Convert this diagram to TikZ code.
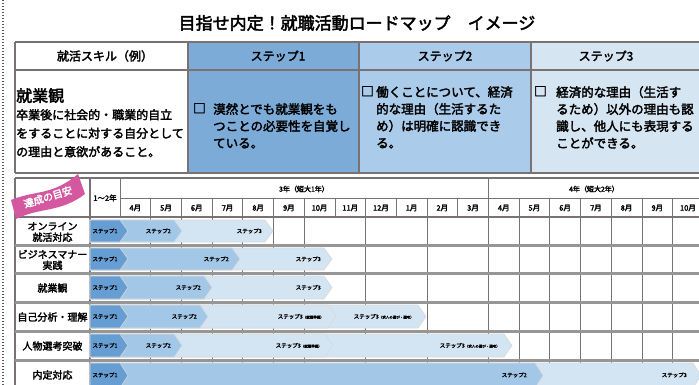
\documentclass[tikz,border=0pt]{standalone}
\usepackage{fontspec}
\setmainfont{Noto Sans CJK JP}[BoldFont={Noto Sans CJK JP}, BoldFeatures={FakeBold=2.5}]
\usepackage{tikz}

\definecolor{linegray}{RGB}{120,114,114}
\definecolor{sepgray}{RGB}{150,150,150}
\definecolor{colone}{RGB}{124,171,216}
\definecolor{coltwo}{RGB}{170,203,233}
\definecolor{colthree}{RGB}{214,229,242}
\definecolor{barone}{RGB}{102,158,211}
\definecolor{bartwo}{RGB}{163,199,231}
\definecolor{barthree}{RGB}{211,228,243}
\definecolor{ribbonpink}{RGB}{212,88,160}

\tikzset{
    tline/.style={linegray, line width=1.3pt},
    gline/.style={linegray, line width=0.8pt},
    rowsep/.style={sepgray, line width=3pt},
    headtext/.style={font=\fontsize{12}{15}\selectfont\bfseries},
    celltext/.style={font=\fontsize{12.5}{17}\selectfont\bfseries, align=left, anchor=north west, inner sep=0pt},
    rowlabel/.style={font=\fontsize{10}{11}\selectfont\bfseries, align=center},
    monthlabel/.style={font=\fontsize{7.5}{9}\selectfont\bfseries},
    steplabel/.style={font=\fontsize{5.5}{6}\selectfont\bfseries, inner sep=0pt},
    barstep/.style={draw=white!70!gray, line width=0.6pt, fill=#1},
}

\newcommand{\stepbar}[5]{\filldraw[barstep=#5] (#1,#3) -- ({#2-8},#3) -- (#2,{(#3+#4)/2}) -- ({#2-8},#4) -- (#1,#4) -- cycle;}
\newcommand{\subnote}[1]{{\fontsize{3.5}{4}\selectfont #1}}

\begin{document}
\begin{tikzpicture}[x=1pt, y=-1pt]
    \useasboundingbox (0,0) rectangle (699,385);
    \clip (0,0) rectangle (699,385);
    \fill[white] (0,0) rectangle (699,385);
    \draw[gray!70!black, line width=1.2pt, dash pattern=on 1.2pt off 1.8pt] (3,0) -- (3,385);

    \node[font=\fontsize{17}{20}\selectfont\bfseries] at (357,23) (title) {目指せ内定！就職活動ロードマップ　イメージ};

    \fill[colone] (188,42) rectangle (359,173);
    \fill[coltwo] (359,42) rectangle (531,173);
    \fill[colthree] (531,42) rectangle (699,173);
    \draw[tline] (15,42) -- (699,42);
    \draw[tline] (15,70) -- (699,70);
    \draw[tline] (15,173) -- (699,173);
    \foreach \x in {15,188,359,531} \draw[tline] (\x,42) -- (\x,173);

    \node[headtext] at (105,56) (skillhead) {就活スキル（例）};
    \node[headtext] at (278,56) (head1) {ステップ1};
    \node[headtext] at (445,56) (head2) {ステップ2};
    \node[headtext] at (606,56) (head3) {ステップ3};

    \node[celltext, font=\fontsize{16}{18}\selectfont\bfseries] at (16,88) (skill) {就業観};
    \node[celltext, font=\fontsize{12}{18.5}\selectfont\bfseries] at (16,109) (skilldesc) {卒業後に社会的・職業的自立\\をすることに対する自分として\\の理由と意欲があること。};

    \node[celltext] at (193,103) (box1) {□};
    \node[celltext] at (213,103) (text1) {漠然とでも就業観をも\\つことの必要性を自覚し\\ている。};
    \node[celltext] at (361,86) (box2) {□};
    \node[celltext] at (376,86) (text2) {働くことについて、経済\\的な理由（生活するた\\め）は明確に認識でき\\る。};
    \node[celltext] at (534,86) (box3) {□};
    \node[celltext] at (556,86) (text3) {経済的な理由（生活す\\るため）以外の理由も認\\識し、他人にも表現する\\ことができる。};

    \draw[tline] (15,178) -- (699,178);
    \draw[tline] (15,178) -- (15,385);
    \draw[tline] (90,178) -- (90,385);
    \draw[gline] (120,178) -- (120,217);
    \draw[gline] (120,198) -- (699,198);
    \draw[gline] (488.4,178) -- (488.4,198);
    \foreach \i in {1,...,18} \draw[gline] ({120+30.7*\i},198) -- ({120+30.7*\i},217);
    \foreach \i in {1,2,3,4,5,6,8,10,12,13,14,15,16,17,18} \draw[gline] ({120+30.7*\i},217) -- ({120+30.7*\i},385);
    \draw[tline] (15,217) -- (699,217);

    \node[monthlabel] at (105,198) (early) {1～2年};
    \node[font=\fontsize{7}{8}\selectfont\bfseries] at (304,189) (year3) {3年（短大1年）};
    \node[font=\fontsize{7}{8}\selectfont\bfseries] at (594,189) (year4) {4年（短大2年）};
    \foreach \m [count=\i from 0] in {4,5,6,7,8,9,10,11,12,1,2,3,4,5,6,7,8,9,10} {
        \node[monthlabel] at ({135.35+30.7*\i},208) (m\i) {\m 月};
    }

    \fill[ribbonpink] (11,200) .. controls (35,190) and (52,196) .. (78,174) -- (85,194) .. controls (60,213) and (40,207) .. (16,219) -- cycle;
    \node[rotate=17, text=white, font=\fontsize{10}{11}\selectfont\bfseries, inner sep=0pt] at (48,197) (ribbon) {達成の目安};

    \node[rowlabel] at (52.5,232) (row1) {オンライン\\就活対応};
    \node[rowlabel] at (52.5,260) (row2) {ビジネスマナー\\実践};
    \node[rowlabel] at (52.5,288) (row3) {就業観};
    \node[rowlabel] at (52.5,317) (row4) {自己分析・理解};
    \node[rowlabel] at (52.5,346) (row5) {人物選考突破};
    \node[rowlabel] at (52.5,375) (row6) {内定対応};

    \stepbar{90}{273}{220}{242}{barthree}
    \stepbar{90}{182}{220}{242}{bartwo}
    \stepbar{90}{128}{220}{242}{barone}
    \stepbar{90}{332}{248}{270}{barthree}
    \stepbar{90}{240}{248}{270}{bartwo}
    \stepbar{90}{128}{248}{270}{barone}
    \stepbar{90}{332}{276}{299}{barthree}
    \stepbar{90}{212}{276}{299}{bartwo}
    \stepbar{90}{128}{276}{299}{barone}
    \stepbar{90}{426}{305}{328}{barthree}
    \stepbar{90}{336}{305}{328}{barthree}
    \stepbar{90}{208}{305}{328}{bartwo}
    \stepbar{90}{128}{305}{328}{barone}
    \stepbar{90}{512}{334}{357}{barthree}
    \stepbar{90}{333}{334}{357}{barthree}
    \stepbar{90}{182}{334}{357}{bartwo}
    \stepbar{90}{128}{334}{357}{barone}
    \stepbar{90}{701}{363}{388}{barthree}
    \stepbar{90}{543}{363}{388}{bartwo}
    \stepbar{90}{128}{363}{388}{barone}

    \node[steplabel] at (105,231) (r1s1) {ステップ1};
    \node[steplabel, anchor=east] at (171,231) (r1s2) {ステップ2};
    \node[steplabel, anchor=east] at (262,231) (r1s3) {ステップ3};
    \node[steplabel] at (105,259) (r2s1) {ステップ1};
    \node[steplabel, anchor=east] at (229,259) (r2s2) {ステップ2};
    \node[steplabel, anchor=east] at (321,259) (r2s3) {ステップ3};
    \node[steplabel] at (105,287.5) (r3s1) {ステップ1};
    \node[steplabel, anchor=east] at (201,287.5) (r3s2) {ステップ2};
    \node[steplabel, anchor=east] at (321,287.5) (r3s3) {ステップ3};
    \node[steplabel] at (105,316.5) (r4s1) {ステップ1};
    \node[steplabel, anchor=east] at (197,316.5) (r4s2) {ステップ2};
    \node[steplabel, anchor=east] at (324,316.5) (r4s3) {ステップ3\subnote{（就職準備）}};
    \node[steplabel, anchor=east] at (414,316.5) (r4s4) {ステップ3\subnote{（求人の選び・選考）}};
    \node[steplabel] at (105,345.5) (r5s1) {ステップ1};
    \node[steplabel, anchor=east] at (171,345.5) (r5s2) {ステップ2};
    \node[steplabel, anchor=east] at (322,345.5) (r5s3) {ステップ3\subnote{（就職準備）}};
    \node[steplabel, anchor=east] at (500,345.5) (r5s4) {ステップ3\subnote{（求人の選び・選考）}};
    \node[steplabel] at (105,375) (r6s1) {ステップ1};
    \node[steplabel, anchor=east] at (527,375) (r6s2) {ステップ2};
    \node[steplabel, anchor=east] at (687,375) (r6s3) {ステップ3};

    \foreach \y in {245,273,302,331,360} \draw[rowsep] (15,\y) -- (699,\y);
\end{tikzpicture}
\end{document}
